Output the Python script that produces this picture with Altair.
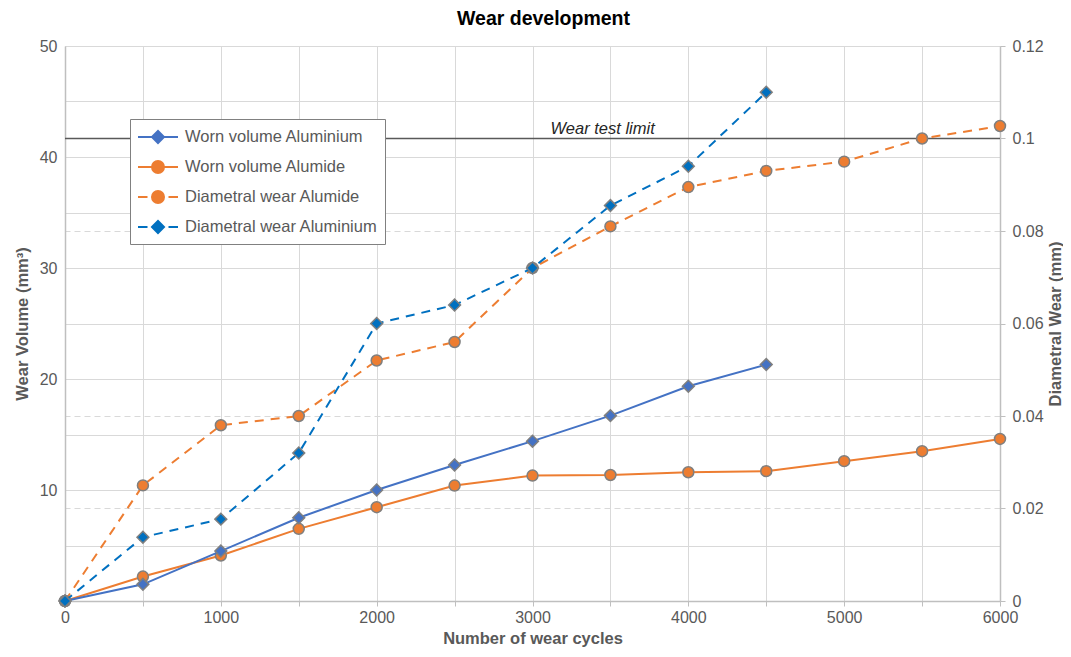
import altair as alt
import pandas as pd

# ---------------- data ----------------
cycles_all = [0, 500, 1000, 1500, 2000, 2500, 3000, 3500, 4000, 4500, 5000, 5500, 6000]
cycles_aluminium = [0, 500, 1000, 1500, 2000, 2500, 3000, 3500, 4000, 4500]

vol_aluminium = [0, 1.5, 4.5, 7.5, 10.0, 12.25, 14.4, 16.7, 19.35, 21.3]
vol_alumide = [0, 2.2, 4.1, 6.5, 8.45, 10.4, 11.3, 11.35, 11.6, 11.7, 12.6, 13.5, 14.6]
diam_alumide = [0, 0.025, 0.038, 0.040, 0.052, 0.056, 0.072, 0.081, 0.0895, 0.093, 0.095, 0.100, 0.1027]
diam_aluminium = [0, 0.0138, 0.0177, 0.032, 0.060, 0.064, 0.072, 0.0855, 0.094, 0.110]

series_names = ["Worn volume Aluminium", "Worn volume Alumide",
                "Diametral wear Alumide", "Diametral wear Aluminium"]
series_colors = ["#4472C4", "#ED7D31", "#ED7D31", "#0070C0"]

limit_value = [0.1]
limit_start = [0]
limit_end = [6000]
limit_label = ["Wear test limit"]
limit_label_x = [3450]

# ---------------- styling ----------------
FONT = "Liberation Sans"
GRAY = "#595959"
GRID = "#d9d9d9"
AXISLINE = "#bfbfbf"
MARKER_STROKE = "#7f7f7f"

x_enc = alt.X(
    "cycles:Q",
    scale=alt.Scale(domain=[0, 6000], nice=False),
    axis=alt.Axis(
        title="Number of wear cycles",
        values=list(range(0, 6500, 500)),
        format="d",
        labelExpr="datum.value % 1000 == 0 ? datum.label : ''",
        labelFlush=False,
        tickSize=5,
        labelPadding=3,
        titlePadding=5,
        grid=True,
    ),
)

y_left = alt.Y(
    "value:Q",
    scale=alt.Scale(domain=[0, 50], nice=False),
    axis=alt.Axis(
        title="Wear Volume (mm³)",
        values=list(range(0, 55, 5)),
        labelExpr="datum.value % 10 == 0 && datum.value > 0 ? datum.label : ''",
        tickSize=0,
        labelPadding=8,
        titlePadding=9,
        grid=True,
    ),
)

y_right = alt.Y(
    "value:Q",
    scale=alt.Scale(domain=[0, 0.12], nice=False),
    axis=alt.Axis(
        title="Diametral Wear (mm)",
        orient="right",
        values=[0, 0.02, 0.04, 0.06, 0.08, 0.1, 0.12],
        format=".2~f",
        tickSize=5,
        labelPadding=7,
        titlePadding=20,
        titleAngle=270,
        grid=True,
        gridDash=[6, 4],
    ),
)


def series_layers(cycles, values, color, shape, size, y, dashed):
    df = pd.DataFrame({"cycles": cycles, "value": values})
    base = alt.Chart(df).encode(x=x_enc, y=y)
    line_kw = dict(color=color, strokeWidth=2)
    if dashed:
        line_kw["strokeDash"] = [9, 7]
    line = base.mark_line(**line_kw)
    pts = base.mark_point(filled=True, shape=shape, size=size, fill=color, opacity=1,
                          stroke=MARKER_STROKE, strokeWidth=1.5)
    return [line, pts]


left = alt.layer(
    *series_layers(cycles_all, vol_alumide, series_colors[1], "circle", 120, y_left, False),
    *series_layers(cycles_aluminium, vol_aluminium, series_colors[0], "diamond", 140, y_left, False),
)

limit_df = pd.DataFrame({"cycles": limit_start, "cycles_end": limit_end, "value": limit_value})
label_df = pd.DataFrame({"cycles": limit_label_x, "value": limit_value, "label": limit_label})

rule = alt.Chart(limit_df).mark_rule(color=GRAY, strokeWidth=1.5).encode(
    x=x_enc, x2="cycles_end:Q", y=y_right)
limit_text = alt.Chart(label_df).mark_text(
    font=FONT, fontSize=16.5, fontStyle="italic", color="#262626", dy=-10
).encode(x=x_enc, y=y_right, text="label:N")

right = alt.layer(
    rule, limit_text,
    *series_layers(cycles_all, diam_alumide, series_colors[2], "circle", 120, y_right, True),
    *series_layers(cycles_aluminium, diam_aluminium, series_colors[3], "diamond", 140, y_right, True),
)

# legend symbols: line + marker drawn as custom paths
circle_p = "M-0.6,0A0.6 0.6 0 1 0 0.6,0A0.6 0.6 0 1 0 -0.6,0Z"
diamond_p = "M-0.6,0L0,-0.6L0.6,0L0,0.6Z"
legend_paths = [
    "M-2,0H2" + diamond_p,
    "M-2,0H2" + circle_p,
    "M-2,0H-1.05M1.05,0H2" + circle_p,
    "M-2,0H-1.05M1.05,0H2" + diamond_p,
]

leg = alt.Legend(
    orient="none", legendX=65, legendY=73, title=None,
    symbolSize=400, symbolStrokeWidth=2, symbolOffset=10,
    labelOffset=16, labelFontSize=16.5, labelFont=FONT, labelColor=GRAY, labelLimit=400,
    strokeColor="#808080", fillColor="white", padding=7, rowPadding=9,
    cornerRadius=0, symbolOpacity=1,
)

legend_df = pd.DataFrame({"series": series_names})
legend_layer = alt.Chart(legend_df).transform_filter("false").mark_point(
    filled=True, size=400, opacity=1
).encode(
    fill=alt.Fill("series:N", scale=alt.Scale(domain=series_names, range=series_colors), legend=leg),
    stroke=alt.Stroke("series:N", scale=alt.Scale(domain=series_names, range=series_colors), legend=leg),
    shape=alt.Shape("series:N", scale=alt.Scale(domain=series_names, range=legend_paths), legend=leg),
)

chart = alt.layer(left, right, legend_layer).resolve_scale(y="independent").properties(
    width=935,
    height=555,
    title=alt.TitleParams("Wear development", fontSize=19.5, font=FONT, fontWeight="bold",
                          color="#000000", offset=9, anchor="middle", dx=11),
    padding={"left": 57, "top": 38, "right": 63, "bottom": 48},
    autosize=alt.AutoSizeParams(type="none"),
).configure_view(stroke=None).configure_axis(
    labelFont=FONT, titleFont=FONT, labelFontSize=16, titleFontSize=16.5,
    labelColor=GRAY, titleColor=GRAY, titleFontWeight="bold",
    domainColor=AXISLINE, tickColor=AXISLINE, gridColor=GRID, domainWidth=1.5,
)

chart.save("out.html", embed_options={"renderer": "svg", "actions": False})
